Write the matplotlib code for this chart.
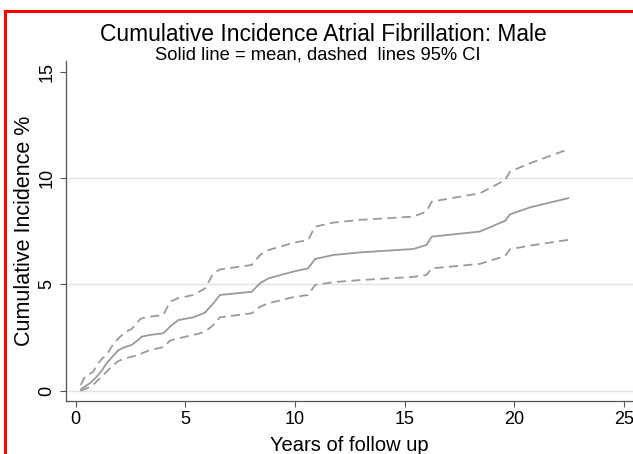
import matplotlib
matplotlib.use("Agg")
import matplotlib.pyplot as plt
from matplotlib.lines import Line2D

plt.rcParams['font.family'] = ['Liberation Sans', 'DejaVu Sans']

# follow-up time (years) and cumulative incidence (%)
years = [0.23, 0.42, 0.65, 0.8, 0.96, 1.19, 1.41, 1.72, 1.95, 2.25, 2.55, 2.93, 3.0, 3.39,
         4.0, 4.3, 4.68, 5.37, 5.9, 6.28, 6.58, 8.03, 8.41, 8.79, 9.93, 10.6, 10.92,
         11.75, 12.97, 15.4, 16.0, 16.24, 18.44, 19.59, 19.81, 20.73, 22.47]
mean = [0.05, 0.2, 0.35, 0.5, 0.66, 0.95, 1.29, 1.65, 1.91, 2.05, 2.15, 2.45, 2.54, 2.62,
        2.70, 3.01, 3.32, 3.45, 3.67, 4.11, 4.5, 4.65, 5.05, 5.28, 5.6, 5.75, 6.19,
        6.38, 6.5, 6.66, 6.85, 7.24, 7.48, 7.99, 8.29, 8.62, 9.05]
upper = [0.27, 0.66, 0.8, 0.89, 1.2, 1.5, 1.68, 2.2, 2.46, 2.75, 2.9, 3.35, 3.4, 3.48,
         3.56, 4.18, 4.35, 4.5, 4.81, 5.52, 5.7, 5.91, 6.38, 6.61, 6.95, 7.08, 7.71,
         7.9, 8.03, 8.18, 8.42, 8.89, 9.28, 9.9, 10.3, 10.69, 11.35]
lower = [0.0, 0.08, 0.18, 0.27, 0.45, 0.66, 0.9, 1.21, 1.4, 1.52, 1.6, 1.68, 1.75, 1.91,
         2.05, 2.35, 2.46, 2.62, 2.77, 3.09, 3.45, 3.64, 3.95, 4.11, 4.4, 4.5, 4.97,
         5.1, 5.2, 5.35, 5.44, 5.75, 5.96, 6.33, 6.65, 6.82, 7.09]

xticks = [0, 5, 10, 15, 20, 25]
yticks = [0, 5, 10, 15]
grid_y = [0, 5, 10]

fig = plt.figure(figsize=(6.33, 4.54), dpi=100)
ax = fig.add_axes([0.1038, 0.1174, 0.8962, 0.7489])

for g in grid_y:
    ax.axhline(g, color='#e2e2e2', lw=1.0, zorder=0)

line_col = '#9a9a9a'
ax.plot(years, mean, color=line_col, lw=1.3)
ax.plot(years, upper, color=line_col, lw=1.3, dashes=(5, 3))
ax.plot(years, lower, color=line_col, lw=1.3, dashes=(5, 3))

ax.set_xlim(-0.456, 25.42)
ax.set_ylim(-0.47, 15.51)
ax.set_xticks(xticks)
ax.set_yticks(yticks)
ax.set_yticklabels([str(t) for t in yticks], rotation=90, va='center')
ax.tick_params(direction='out', length=4.5, width=0.8, color='#555555',
               labelsize=13, labelcolor='black', pad=3)

for s in ['top', 'right']:
    ax.spines[s].set_visible(False)
for s in ['left', 'bottom']:
    ax.spines[s].set_color('#555555')
    ax.spines[s].set_linewidth(0.9)

ax.set_xlabel('Years of follow up', fontsize=14.5, labelpad=6)
ax.set_ylabel('Cumulative Incidence %', fontsize=15.5, labelpad=2.5)

fig.text(0.511, 0.923, 'Cumulative Incidence Atrial Fibrillation: Male',
         ha='center', va='center', fontsize=16.4)
fig.text(0.502, 0.879, 'Solid line = mean, dashed  lines 95% CI',
         ha='center', va='center', fontsize=13.2)

# red frame around the panel (right and bottom edges fall outside the crop)
fig.add_artist(Line2D([5 / 633, 5 / 633], [0, 1 - 11 / 454], color='red', lw=2.2,
                      transform=fig.transFigure))
fig.add_artist(Line2D([5 / 633, 1], [1 - 11 / 454, 1 - 11 / 454], color='red', lw=2.2,
                      transform=fig.transFigure))

fig.savefig('out.png', dpi=100)
